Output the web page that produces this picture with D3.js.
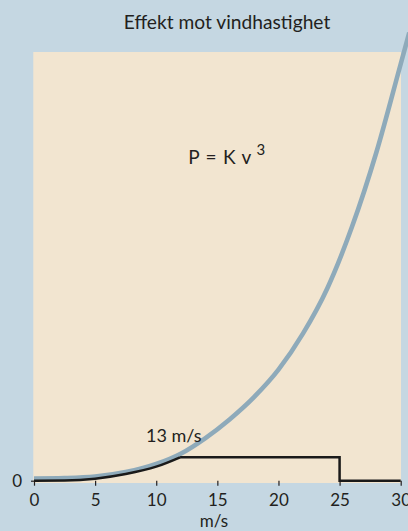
<!DOCTYPE html>
<html><head><meta charset="utf-8">
<script src="https://cdn.jsdelivr.net/npm/d3@7"></script>
<style>
html,body{margin:0;padding:0;background:#c5d7e2;}
svg{display:block;}
text{font-family:Lato,"Open Sans",sans-serif;fill:#231f20;}
</style></head>
<body>
<svg id="chart" width="408" height="531"></svg>
<script>
// ---- data ----
const title = "Effekt mot vindhastighet";
const xTicks = [0, 5, 10, 15, 20, 25, 30];
const xLabel = "m/s";
const yTickLabels = [0];
const formulaMain = "P = K v";
const formulaExp = "3";
const ratedLabel = "13 m/s";
// theoretical power curve P = K v^3 (relative units, 100 = top of frame)
const curveV = [0, 2.5, 5, 7.5, 10, 12, 14, 16, 18, 20, 22, 24, 26, 28, 30, 30.7];
const curveP = [0.5, 0.6, 0.95, 2.0, 3.9, 6.3, 9.9, 14.3, 19.5, 25.9, 34.3, 44.9, 59.1, 76.5, 97.2, 104.5];
// turbine output: follows the cubic up to rated speed, flat to cut-out, then zero
const turbineRiseV = [0, 2.5, 5, 7.5, 10, 11.95];
const turbineRiseP = [0, 0.05, 0.47, 1.56, 3.27, 5.46];
const turbineStepV = [11.95, 25, 25, 30];
const turbineStepP = [5.46, 5.46, 0, 0];

// ---- layout ----
const svg = d3.select("#chart");
const x = d3.scaleLinear().domain([0, 30]).range([34, 400.7]);
const y = d3.scaleLinear().domain([0, 100]).range([480.7, 52]);

svg.append("rect").attr("x", 0).attr("y", 0).attr("width", 408).attr("height", 531).attr("fill", "#c5d7e2");
svg.append("rect")
  .attr("x", x(0) - 0.7).attr("y", y(100))
  .attr("width", x(30) - x(0) + 1).attr("height", y(0) - y(100) + 2.3)
  .attr("fill", "#f2e5d0");

svg.append("text").attr("x", 227).attr("y", 29.3).attr("text-anchor", "middle")
  .style("font-size", "19.2px").text(title);

// x axis ticks & labels
const xAxis = d3.axisBottom(x).tickValues(xTicks).tickSize(5).tickPadding(8).tickFormat(d3.format("d"));
const gx = svg.append("g").attr("transform", `translate(0,${y(0)})`).call(xAxis);
gx.select(".domain").remove();
gx.selectAll(".tick line").attr("stroke", "#231f20").attr("stroke-width", 1.2);
gx.selectAll(".tick text").style("font-size", "17px").attr("fill", "#231f20")
  .attr("font-family", "Lato, 'Open Sans', sans-serif");

svg.append("text").attr("x", 214).attr("y", 527).attr("text-anchor", "middle")
  .style("font-size", "17px").text(xLabel);

// y axis tick & label
const yAxis = d3.axisLeft(y).tickValues(yTickLabels).tickSize(3).tickPadding(9).tickFormat(d3.format("d"));
const gy = svg.append("g").attr("transform", `translate(${x(0)},0)`).call(yAxis);
gy.select(".domain").remove();
gy.selectAll(".tick line").attr("stroke", "#231f20").attr("stroke-width", 1.2);
gy.selectAll(".tick text").style("font-size", "17px").attr("fill", "#231f20")
  .attr("font-family", "Lato, 'Open Sans', sans-serif");

// curves
svg.append("path")
  .datum(curveV.map((v, i) => [v, curveP[i]]))
  .attr("d", d3.line().x(d => x(d[0])).y(d => y(d[1])).curve(d3.curveMonotoneX))
  .attr("fill", "none").attr("stroke", "#8eaaba").attr("stroke-width", 4.6).attr("stroke-linecap", "butt");

svg.append("path")
  .datum(turbineRiseV.map((v, i) => [v, turbineRiseP[i]]))
  .attr("d", d3.line().x(d => x(d[0])).y(d => y(d[1])).curve(d3.curveMonotoneX))
  .attr("fill", "none").attr("stroke", "#1a1a1a").attr("stroke-width", 2.5);
svg.append("path")
  .datum(turbineStepV.map((v, i) => [v, turbineStepP[i]]))
  .attr("d", d3.line().x(d => x(d[0])).y(d => y(d[1])))
  .attr("fill", "none").attr("stroke", "#1a1a1a").attr("stroke-width", 2.5)
  .attr("stroke-linejoin", "miter");

// annotations
svg.append("text").attr("x", 188.3).attr("y", 164.3).style("font-size", "19px")
  .style("word-spacing", "1.5px").text(formulaMain);
svg.append("text").attr("x", 256.5).attr("y", 155).style("font-size", "15px").text(formulaExp);
svg.append("text").attr("x", 146).attr("y", 441.7).style("font-size", "18px").text(ratedLabel);
</script>
</body></html>
